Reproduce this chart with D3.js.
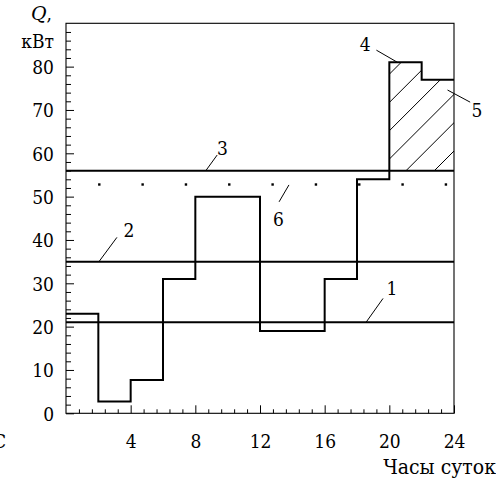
<!DOCTYPE html>
<html>
<head>
<meta charset="utf-8">
<script src="https://cdn.jsdelivr.net/npm/d3@7"></script>
<style>
  body { margin: 0; background: #fff; }
</style>
</head>
<body>
<script>
// load schedule (step starts, hours) and power, kW
var hours = [0, 2, 4, 6, 8, 12, 16, 18, 20, 22];
var load = [23, 2.7, 7.7, 31, 50, 19, 31, 54, 81, 77];
// horizontal levels 1, 2, 3
var levels = [21, 35, 56];
var limitLevel = 56;
// dotted line 6
var dotHours = [2.06, 4.74, 7.42, 10.1, 12.78, 15.46, 18.14, 20.82, 23.5];
var dotLevel = 52.8;
var xTicks = [4, 8, 12, 16, 20, 24];
var yTicks = [0, 10, 20, 30, 40, 50, 60, 70, 80];
// callouts: label, text position, leader start, leader end (hours, kW)
var callouts = [
    {t: '1', at: [20.16, 27.3], a: [18.56, 21], b: [19.61, 26.5]},
    {t: '2', at: [3.9, 40.75], a: [2.04, 35], b: [3.15, 40.6]},
    {t: '3', at: [9.68, 59.6], a: [8.65, 56], b: [9.35, 59.6]},
    {t: '4', at: [18.5, 83.6], a: [19.2, 83.8], b: [20.5, 81]},
    {t: '5', at: [25.42, 68.4], a: [23.6, 74.6], b: [25.0, 71.8]},
    {t: '6', at: [13.14, 43.2], a: [13.79, 52.7], b: [13.18, 48.8]}
];

function drawChart() {
    var width = 496, height = 482;
    var padL = 66, padR = 454, padT = 23.3, padB = 413.3;
    var fs = 19;

    var svg = d3.select('body').append('svg')
        .attr('width', width)
        .attr('height', height)
        .attr('font-family', "'DejaVu Serif Condensed', 'DejaVu Serif'")
        .attr('font-size', fs);

    var x = d3.scaleLinear().domain([0, 24]).range([padL, padR]);
    var y = d3.scaleLinear().domain([0, 90]).range([padB, padT]);

    // minor ticks
    var xMinor = d3.range(1, 30).filter(function (i) { return i % 5 != 0; }).map(function (i) { return i * 0.8; });
    var yMinor = d3.range(2, 90, 2).filter(function (v) { return v % 10 != 0; });

    svg.append('g')
        .attr('transform', 'translate(0,' + padB + ')')
        .call(d3.axisBottom(x).tickValues(xMinor).tickSize(-4).tickFormat(''))
        .call(function (g) { g.select('.domain').remove(); });

    svg.append('g')
        .attr('transform', 'translate(0,' + padB + ')')
        .call(d3.axisBottom(x).tickValues(xTicks).tickSize(-8).tickPadding(21).tickFormat(d3.format('d')))
        .call(function (g) {
            g.select('.domain').remove();
            g.attr('font-family', null).attr('font-size', null);
        });

    svg.append('g')
        .attr('transform', 'translate(' + padL + ',0)')
        .call(d3.axisLeft(y).tickValues(yMinor).tickSize(-5).tickFormat(''))
        .call(function (g) { g.select('.domain').remove(); });

    svg.append('g')
        .attr('transform', 'translate(' + padL + ',0)')
        .call(d3.axisLeft(y).tickValues(yTicks).tickSize(-8).tickPadding(12).tickFormat(d3.format('d')))
        .call(function (g) {
            g.select('.domain').remove();
            g.attr('font-family', null).attr('font-size', null);
            g.selectAll('text').attr('dy', '0.36em');
        });

    svg.selectAll('.tick line').attr('stroke', '#000').attr('stroke-width', 1);
    svg.selectAll('.tick text').attr('fill', '#000');

    // frame
    svg.append('rect')
        .attr('x', padL)
        .attr('y', padT)
        .attr('width', padR - padL)
        .attr('height', padB - padT)
        .attr('fill', 'none')
        .attr('stroke', '#000')
        .attr('stroke-width', 1.1);

    // step data with final point at 24 h
    var steps = hours.map(function (h, i) { return [h, load[i]]; });
    steps.push([24, load[load.length - 1]]);

    // hatched part above level 3
    var over = steps.filter(function (d) { return d[0] >= 20; });
    svg.append('clipPath').attr('id', 'over')
        .append('path')
        .attr('d', d3.area()
            .x(function (d) { return x(d[0]); })
            .y0(y(limitLevel))
            .y1(function (d) { return y(d[1]); })
            .curve(d3.curveStepAfter)(over));

    var hatch = svg.append('g').attr('clip-path', 'url(#over)');
    d3.range(-10, 10).forEach(function (k) {
        var c = 576.7 + k * 28.3;
        hatch.append('line')
            .attr('x1', c - padB).attr('y1', padB)
            .attr('x2', c - padT).attr('y2', padT)
            .attr('stroke', '#000')
            .attr('stroke-width', 1);
    });

    // levels 1, 2, 3
    svg.selectAll('.level')
        .data(levels)
        .enter().append('line')
        .attr('x1', x(0)).attr('x2', x(24))
        .attr('y1', function (d) { return y(d); })
        .attr('y2', function (d) { return y(d); })
        .attr('stroke', '#000')
        .attr('stroke-width', 2);

    // dots 6
    svg.selectAll('.dot')
        .data(dotHours)
        .enter().append('rect')
        .attr('x', function (d) { return x(d) - 1.2; })
        .attr('y', y(dotLevel) - 1.2)
        .attr('width', 2.4)
        .attr('height', 2.4)
        .attr('fill', '#000');

    // load schedule
    svg.append('path')
        .attr('d', d3.line()
            .x(function (d) { return x(d[0]); })
            .y(function (d) { return y(d[1]); })
            .curve(d3.curveStepAfter)(steps))
        .attr('fill', 'none')
        .attr('stroke', '#000')
        .attr('stroke-width', 2);

    // callouts
    callouts.forEach(function (c) {
        svg.append('line')
            .attr('x1', x(c.a[0])).attr('y1', y(c.a[1]))
            .attr('x2', x(c.b[0])).attr('y2', y(c.b[1]))
            .attr('stroke', '#000')
            .attr('stroke-width', 1);
        svg.append('text')
            .attr('x', x(c.at[0]))
            .attr('y', y(c.at[1]))
            .attr('text-anchor', 'middle')
            .text(c.t);
    });

    // axis titles
    var q = svg.append('text')
        .attr('x', 31).attr('y', 20);
    q.append('tspan').attr('font-family', 'DejaVu Serif').attr('font-style', 'italic').text('Q');
    q.append('tspan').text(',');

    svg.append('text')
        .attr('x', 54).attr('y', 48)
        .attr('text-anchor', 'end')
        .text('кВт');

    svg.append('text')
        .attr('x', 496).attr('y', 474)
        .attr('text-anchor', 'end')
        .attr('font-size', 21)
        .text('Часы суток');

    svg.append('text')
        .attr('x', -7).attr('y', 448)
        .text('С');
}

drawChart();
</script>
</body>
</html>
